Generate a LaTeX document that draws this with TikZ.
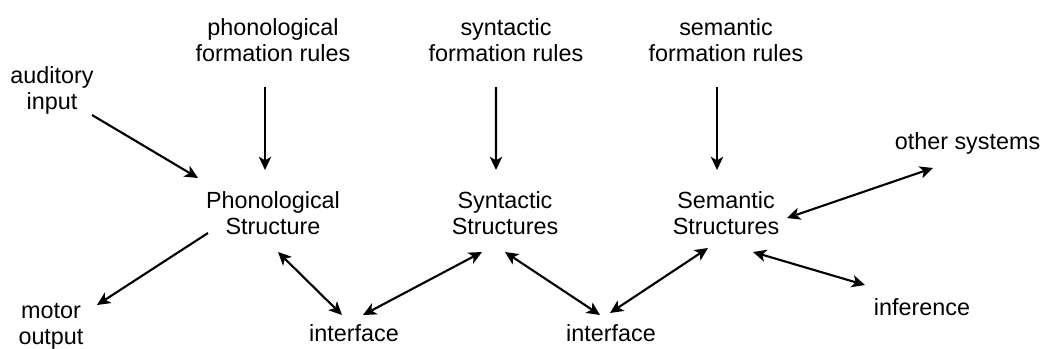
\documentclass[tikz,border=0pt]{standalone}
\usepackage{fontspec}
\setmainfont{Liberation Sans}
\usetikzlibrary{arrows.meta}

\begin{document}
\begin{tikzpicture}[x=0.2cm,y=0.2cm]
\tikzstyle{every node}+=[inner sep=0pt,align=center,font=\fontsize{13.3}{15.2}\selectfont]
\tikzstyle{link}=[line width=1.2pt,-{Stealth[length=7.5pt,width=7pt,inset=2pt]}]
\tikzstyle{both}=[link,{Stealth[length=7.5pt,width=7pt,inset=2pt]}-{Stealth[length=7.5pt,width=7pt,inset=2pt]}]
\useasboundingbox (0,0) rectangle (104.1,-34.8);
% rule systems on top
\node (phonrules) at (27.3,-4) {phonological\\formation rules};
\node (synrules) at (50.6,-4) {syntactic\\formation rules};
\node (semrules) at (72.6,-4) {semantic\\formation rules};
% structures
\node (phon) at (27.3,-21.3) {Phonological\\Structure};
\node (syn) at (50.5,-21.3) {Syntactic\\Structures};
\node (sem) at (72.6,-21.3) {Semantic\\Structures};
% outer ends
\node (audin) at (5.2,-9.05) {auditory\\input};
\node (motor) at (5.1,-32.65) {motor\\output};
\node (other) at (96.75,-14.3) {other systems};
\node (infer) at (92.2,-30.7) {inference};
\node (iface1) at (35.4,-33.3) {interface};
\node (iface2) at (61.1,-33.3) {interface};
% formation rules feed the structures
\draw[link] ([shift={(-0.8,-4.7)}]phonrules.center) -- ([shift={(-0.8,4.3)}]phon.center);
\draw[link] ([shift={(-1,-4.7)}]synrules.center) -- ([shift={(-0.9,4.3)}]syn.center);
\draw[link] ([shift={(-0.9,-4.7)}]semrules.center) -- ([shift={(-0.9,4.3)}]sem.center);
% input and output
\draw[link] ([shift={(4,-2.45)}]audin.center) -- ([shift={(-7.5,3.5)}]phon.center);
\draw[link] ([shift={(-6.5,-2)}]phon.center) -- ([shift={(4.6,2.15)}]motor.center);
% interfaces
\draw[both] ([shift={(0.5,-3.9)}]phon.center) -- ([shift={(-1.2,1.8)}]iface1.center);
\draw[both] ([shift={(0.9,1.8)}]iface1.center) -- ([shift={(-2.3,-3.9)}]syn.center);
\draw[both] ([shift={(0,-3.9)}]syn.center) -- ([shift={(-1.1,1.8)}]iface2.center);
\draw[both] ([shift={(-0.1,2)}]iface2.center) -- ([shift={(-1.8,-3.5)}]sem.center);
% semantics to the rest
\draw[both] ([shift={(6.1,-0.5)}]sem.center) -- ([shift={(-3.45,-2.5)}]other.center);
\draw[both] ([shift={(2.7,-3.9)}]sem.center) -- ([shift={(-5.7,2.2)}]infer.center);
\end{tikzpicture}
\end{document}
